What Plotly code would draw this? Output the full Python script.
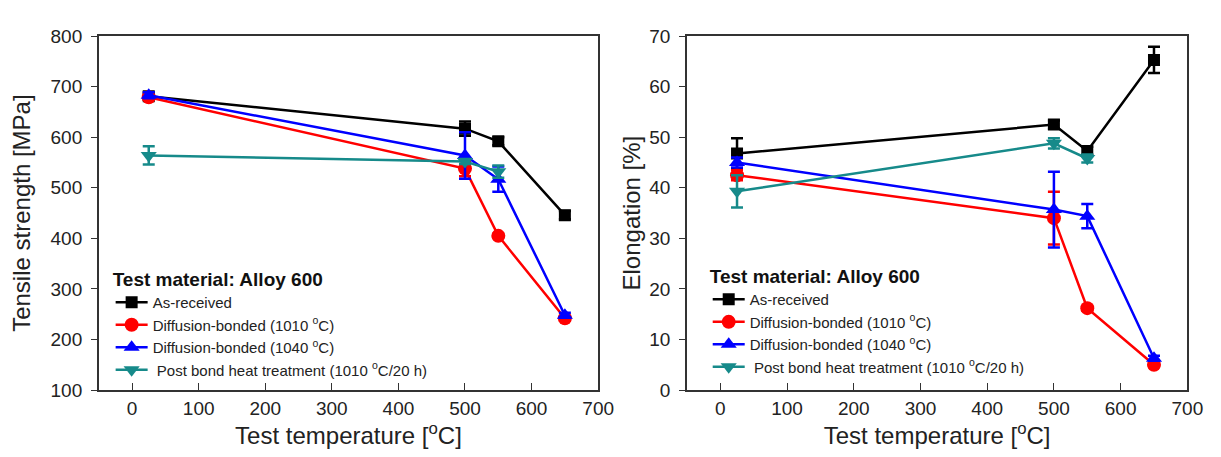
import plotly.graph_objects as go

# ---------------- data ----------------
temps = [25, 500, 550, 650]
temps_pbht = [25, 500, 550]

series_names = [
    "As-received",
    "Diffusion-bonded (1010 <sup>o</sup>C)",
    "Diffusion-bonded (1040 <sup>o</sup>C)",
    " Post bond heat treatment (1010 <sup>o</sup>C/20 h)",
]

# Tensile strength [MPa]
ts_as_received = [681, 617, 592, 446]
ts_as_received_err = [7, 14, 8, 8]
ts_db1010 = [679, 538, 405, 242]
ts_db1010_err = [5, 15, 4, 5]
ts_db1040 = [683, 564, 517, 248]
ts_db1040_err = [6, 46, 25, 5]
ts_pbht = [564, 552, 532]
ts_pbht_err = [18, 5, 12]

# Elongation [%]
el_as_received = [46.8, 52.5, 47.3, 65.3]
el_as_received_err = [3.0, 0.8, 0.8, 2.6]
el_db1010 = [42.5, 34.0, 16.2, 5.0]
el_db1010_err = [1.0, 5.2, 0.5, 0.5]
el_db1040 = [45.0, 35.7, 34.4, 6.3]
el_db1040_err = [1.0, 7.5, 2.4, 0.5]
el_pbht = [39.3, 48.8, 45.8]
el_pbht_err = [3.2, 1.0, 0.8]

x_ticks = [0, 100, 200, 300, 400, 500, 600, 700]
ts_ticks = [100, 200, 300, 400, 500, 600, 700, 800]
el_ticks = [0, 10, 20, 30, 40, 50, 60, 70]

# ---------------- style ----------------
colors = ["#000000", "#ff0000", "#0000ff", "#168a8a"]
symbols = ["square", "circle", "triangle-up", "triangle-down"]
msizes = [12, 14, 14, 14]
FONT = "Liberation Sans, Arial, sans-serif"

fig = go.Figure()

left = [
    (temps, ts_as_received, ts_as_received_err),
    (temps, ts_db1010, ts_db1010_err),
    (temps, ts_db1040, ts_db1040_err),
    (temps_pbht, ts_pbht, ts_pbht_err),
]
right = [
    (temps, el_as_received, el_as_received_err),
    (temps, el_db1010, el_db1010_err),
    (temps, el_db1040, el_db1040_err),
    (temps_pbht, el_pbht, el_pbht_err),
]

for panel, (data, xa, ya, leg) in enumerate([(left, "x", "y", "legend"), (right, "x2", "y2", "legend2")]):
    for i, (xs, ys, es) in enumerate(data):
        fig.add_trace(go.Scatter(
            x=xs, y=ys, xaxis=xa, yaxis=ya,
            mode="lines+markers",
            name=series_names[i],
            legend=leg,
            line=dict(color=colors[i], width=2.5),
            marker=dict(symbol=symbols[i], size=msizes[i], color=colors[i]),
            error_y=dict(type="data", array=es, visible=True, color=colors[i], thickness=2.5, width=6),
        ))

axis_common = dict(
    showline=True, linecolor="#333333", linewidth=1.5, mirror=True,
    showgrid=False, zeroline=False,
    tickfont=dict(family=FONT, size=19, color="#222222"),
    title_font=dict(family=FONT, size=24, color="#222222"),
)

xcommon = dict(axis_common, range=[-50, 700], tickvals=x_ticks, ticks="inside", ticklen=7,
               tickwidth=1.3, tickcolor="#333333",
               title_text="Test temperature [<sup>o</sup>C]", title_standoff=5)

legend_common = dict(
    xanchor="left", yanchor="top",
    bgcolor="rgba(0,0,0,0)", traceorder="normal",
    font=dict(family=FONT, size=15, color="#222222"),
    title=dict(text="<b>Test material: Alloy 600</b>", font=dict(family=FONT, size=19, color="#111111")),
    itemwidth=32,
)

fig.update_layout(
    width=1221, height=457,
    margin=dict(l=0, r=0, t=0, b=0),
    paper_bgcolor="white", plot_bgcolor="white",
    font=dict(family=FONT, color="#222222"),
    xaxis=dict(xcommon, domain=[92 / 1221, 598 / 1221], anchor="y"),
    xaxis2=dict(xcommon, domain=[688 / 1221, 1195 / 1221], anchor="y2"),
    yaxis=dict(axis_common, domain=[1 - 390 / 457, 1 - 19 / 457], anchor="x",
               range=[100, 800], tickvals=ts_ticks, ticks="outside", ticklen=6,
               tickwidth=1.3, tickcolor="#333333", ticklabelstandoff=5,
               title_text="Tensile strength [MPa]", title_standoff=16),
    yaxis2=dict(axis_common, domain=[1 - 390 / 457, 1 - 19 / 457], anchor="x2",
                range=[0, 70], tickvals=el_ticks, ticks="outside", ticklen=6,
                tickwidth=1.3, tickcolor="#333333", ticklabelstandoff=5,
                title_text="Elongation [%]", title_standoff=2),
    legend=dict(legend_common, x=104 / 1221, y=1 - 255 / 457),
    legend2=dict(legend_common, x=709 / 1221, y=1 - 252 / 457),
)

fig.write_html("out.html")
